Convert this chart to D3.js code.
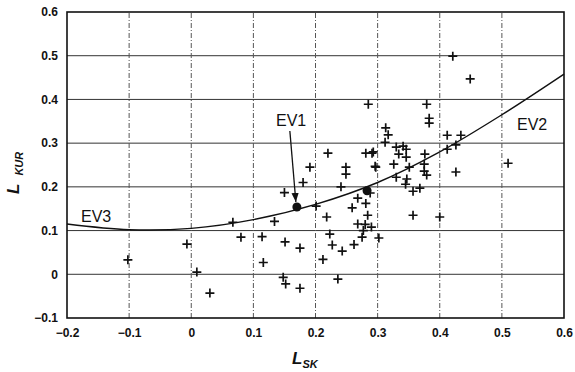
<!DOCTYPE html>
<html>
<head>
<meta charset="utf-8">
<script src="https://cdn.jsdelivr.net/npm/d3@7"></script>
<style>
  body { margin: 0; background: #fff; }
  svg text { font-family: "Liberation Sans", Arial, sans-serif; fill: #111; }
</style>
</head>
<body>
<div id="chart"></div>
<script>
// scatter of L_SK vs L_KUR
const pointsX = [-0.102, -0.007, 0.009, 0.030, 0.067, 0.080, 0.114, 0.116, 0.134, 0.151,
  0.148, 0.152, 0.175, 0.175, 0.212, 0.227, 0.223, 0.236, 0.243, 0.262,
  0.275, 0.218, 0.259, 0.268, 0.281, 0.284, 0.268, 0.280, 0.290, 0.277,
  0.150, 0.180, 0.241, 0.201, 0.285, 0.220, 0.281, 0.291, 0.191, 0.249,
  0.249, 0.296, 0.421, 0.449, 0.379, 0.383, 0.383, 0.313, 0.317, 0.312,
  0.412, 0.434, 0.293, 0.330, 0.341, 0.346, 0.334, 0.346, 0.376, 0.412,
  0.426, 0.297, 0.326, 0.351, 0.375, 0.375, 0.379, 0.426, 0.330, 0.347,
  0.345, 0.357, 0.368, 0.288, 0.357, 0.400, 0.302, 0.510];
const pointsY = [0.033, 0.069, 0.005, -0.043, 0.119, 0.085, 0.086, 0.027, 0.121, 0.074,
  -0.007, -0.022, 0.060, -0.032, 0.034, 0.067, 0.092, -0.011, 0.053, 0.068,
  0.085, 0.131, 0.152, 0.174, 0.162, 0.135, 0.115, 0.114, 0.108, 0.100,
  0.187, 0.210, 0.200, 0.156, 0.389, 0.277, 0.277, 0.277, 0.245, 0.245,
  0.229, 0.247, 0.499, 0.447, 0.389, 0.357, 0.346, 0.335, 0.319, 0.302,
  0.318, 0.318, 0.280, 0.291, 0.293, 0.286, 0.275, 0.268, 0.275, 0.286,
  0.296, 0.245, 0.252, 0.245, 0.252, 0.236, 0.227, 0.234, 0.222, 0.218,
  0.206, 0.190, 0.197, 0.186, 0.135, 0.131, 0.083, 0.254];

// trend curve
const curveX = [-0.2, -0.1, 0, 0.1, 0.2, 0.3, 0.4, 0.5, 0.6];
const curveY = [0.115, 0.102, 0.105, 0.125, 0.16, 0.21, 0.28, 0.365, 0.458];

// highlighted events
const eventNames = ['EV1', 'EV2'];
const eventX = [0.170, 0.283];
const eventY = [0.154, 0.191];

const xTicks = [-0.2, -0.1, 0, 0.1, 0.2, 0.3, 0.4, 0.5, 0.6];
const yTicks = [-0.1, 0, 0.1, 0.2, 0.3, 0.4, 0.5, 0.6];

const width = 575, height = 372;
const margin = { top: 12, right: 11, bottom: 54, left: 67 };

const svg = d3.select('#chart').append('svg')
    .attr('width', width)
    .attr('height', height);

const x = d3.scaleLinear().domain([-0.2, 0.6]).range([margin.left, width - margin.right]);
const y = d3.scaleLinear().domain([-0.1, 0.6]).range([height - margin.bottom, margin.top]);

const fmt = d => d === 0 ? '0' : d3.format('.1f')(d);

// grid: solid horizontals, dash-dot verticals
svg.append('g')
    .selectAll('line')
    .data(yTicks.slice(1, -1))
  .enter().append('line')
    .attr('x1', x.range()[0]).attr('x2', x.range()[1])
    .attr('y1', d => y(d)).attr('y2', d => y(d))
    .attr('stroke', '#333')
    .attr('stroke-width', 1);

svg.append('g')
    .selectAll('line')
    .data(xTicks.slice(1, -1))
  .enter().append('line')
    .attr('x1', d => x(d)).attr('x2', d => x(d))
    .attr('y1', y.range()[0]).attr('y2', y.range()[1])
    .attr('stroke', '#555')
    .attr('stroke-width', 1)
    .attr('stroke-dasharray', '5,2,1,2');

// axes
const xAxis = d3.axisBottom(x).tickValues(xTicks).tickSize(0).tickPadding(10).tickFormat(fmt);
const yAxis = d3.axisLeft(y).tickValues(yTicks).tickSize(0).tickPadding(9).tickFormat(fmt);

svg.append('g')
    .attr('transform', `translate(0,${y(-0.1)})`)
    .call(xAxis)
    .call(g => g.select('.domain').remove())
    .selectAll('text')
    .style('font-size', '12px').style('font-weight', 'bold');

svg.append('g')
    .attr('transform', `translate(${x(-0.2)},0)`)
    .call(yAxis)
    .call(g => g.select('.domain').remove())
    .selectAll('text')
    .style('font-size', '12px').style('font-weight', 'bold');

// frame
svg.append('rect')
    .attr('x', x(-0.2)).attr('y', y(0.6))
    .attr('width', x(0.6) - x(-0.2))
    .attr('height', y(-0.1) - y(0.6))
    .attr('fill', 'none')
    .attr('stroke', '#111')
    .attr('stroke-width', 1.6);

// curve
const line = d3.line()
    .x(d => x(d[0]))
    .y(d => y(d[1]))
    .curve(d3.curveCatmullRom);

svg.append('path')
    .datum(d3.zip(curveX, curveY))
    .attr('d', line)
    .attr('fill', 'none')
    .attr('stroke', '#111')
    .attr('stroke-width', 1.4);

// plus markers
svg.append('g')
    .selectAll('path')
    .data(d3.zip(pointsX, pointsY))
  .enter().append('path')
    .attr('transform', d => `translate(${x(d[0])},${y(d[1])})`)
    .attr('d', 'M-4.5,0H4.5M0,-4.5V4.5')
    .attr('stroke', '#111')
    .attr('stroke-width', 1.7);

// event dots
svg.append('g')
    .selectAll('circle')
    .data(d3.zip(eventX, eventY))
  .enter().append('circle')
    .attr('cx', d => x(d[0]))
    .attr('cy', d => y(d[1]))
    .attr('r', 4.5)
    .attr('fill', '#111');

// arrow from EV1 label to its dot
svg.append('defs').append('marker')
    .attr('id', 'arrow')
    .attr('viewBox', '0 0 10 10')
    .attr('refX', 10).attr('refY', 5)
    .attr('markerWidth', 7).attr('markerHeight', 7)
    .attr('orient', 'auto')
  .append('path')
    .attr('d', 'M0,1L10,5L0,9Z')
    .attr('fill', '#111');

svg.append('line')
    .attr('x1', x(eventX[0]) - 7).attr('y1', 131)
    .attr('x2', x(eventX[0]) - 1).attr('y2', y(eventY[0]) - 5)
    .attr('stroke', '#111')
    .attr('stroke-width', 1.3)
    .attr('marker-end', 'url(#arrow)');

const labels = svg.append('g').style('font-size', '16px');
labels.append('text').attr('x', 276).attr('y', 126).text(eventNames[0]);
labels.append('text').attr('x', 517).attr('y', 130).text(eventNames[1]);
labels.append('text').attr('x', 81).attr('y', 222).text('EV3');

// axis titles
const xt = svg.append('text')
    .attr('x', 292).attr('y', 364)
    .style('font-size', '17px').style('font-weight', 'bold').style('font-style', 'italic');
xt.append('tspan').text('L');
xt.append('tspan').attr('dy', 4).style('font-size', '11px').text('SK');

const yt = svg.append('text')
    .attr('transform', 'translate(19,194) rotate(-90)')
    .style('font-size', '17px').style('font-weight', 'bold').style('font-style', 'italic');
yt.append('tspan').text('L');
yt.append('tspan').attr('dx', 8).attr('dy', 4).style('font-size', '11px').text('KUR');
</script>
</body>
</html>
